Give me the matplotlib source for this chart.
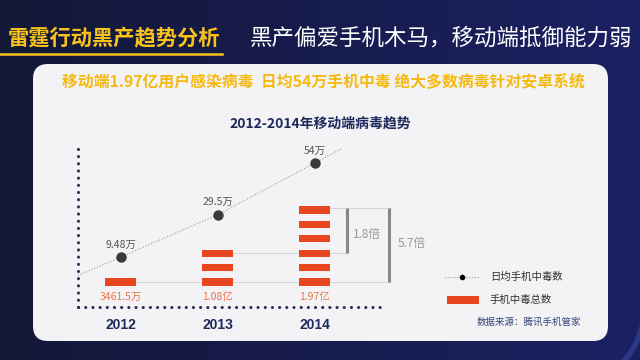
import numpy as np
import matplotlib
matplotlib.use('Agg')
import matplotlib.pyplot as plt
from matplotlib.patches import FancyBboxPatch, Rectangle, Arc
from matplotlib.colors import LinearSegmentedColormap

plt.rcParams['font.family'] = ['Noto Sans CJK SC', 'DejaVu Sans']

# data
years = ['2012', '2013', '2014']
daily = [9.48, 29.5, 54]                 # 日均手机中毒数 (万)
daily_labels = ['9.48万', '29.5万', '54万']
totals = [0.34615, 1.08, 1.97]           # 手机中毒总数 (亿)
total_labels = ['3461.5万', '1.08亿', '1.97亿']
segments = [1, 3, 6]                     # stacked blocks per year
ratio_labels = ['1.8倍', '5.7倍']

bg = '#171c4e'
panel = '#f3f3f5'
orange = '#e8461e'
navy = '#1f2a5c'

fig = plt.figure(figsize=(6.4, 3.6), dpi=100)
fig.patch.set_facecolor(bg)

# full-figure layer in pixel coordinates for the slide decoration
bgax = fig.add_axes([0, 0, 1, 1])
bgax.set_xlim(0, 640)
bgax.set_ylim(360, 0)
bgax.axis('off')

grad = LinearSegmentedColormap.from_list('bg', ['#131837', '#171c4e', '#1b2162'])
bgax.imshow(np.linspace(0, 1, 256)[None, :], cmap=grad, extent=[0, 640, 360, 0],
            aspect='auto', zorder=0)

# faint arcs on the right, mostly hidden by the panel
for r, t1, t2, lw in [(85, 5, 60, 4), (105, 10, 62, 5), (125, 12, 66, 4),
                      (145, 18, 68, 5), (165, 22, 70, 4)]:
    bgax.add_patch(Arc((560, 305), 2 * r, 2 * r, theta1=t1, theta2=t2,
                       color='#2c3887', lw=lw, zorder=1))

bgax.add_patch(FancyBboxPatch((33, 64), 575, 277, boxstyle='round,pad=0,rounding_size=15',
                              facecolor=panel, edgecolor='none', zorder=2))

bgax.text(8, 38, '雷霆行动黑产趋势分析', color='#f7c21a', fontsize=15.3,
          fontweight='bold', va='center', ha='left')
bgax.plot([0, 222], [54, 54], color='#f7c21a', lw=1.8)
bgax.text(250, 38, '黑产偏爱手机木马，移动端抵御能力弱', color='white', fontsize=16.2,
          va='center', ha='left')
bgax.text(323, 81, '移动端1.97亿用户感染病毒  日均54万手机中毒 绝大多数病毒针对安卓系统',
          color='#f5b90f', fontsize=11.4, fontweight='bold', va='center', ha='center')
bgax.text(320, 124, '2012-2014年移动端病毒趋势', color=navy, fontsize=10,
          fontweight='bold', va='center', ha='center')

# legend
bgax.plot([445, 479], [277, 277], color='#999999', lw=0.8, ls=':', zorder=3)
bgax.plot([462], [277], 'o', color='black', ms=3, zorder=3)
bgax.text(490, 277, '日均手机中毒数', color='#333333', fontsize=7.5, va='center')
bgax.add_patch(Rectangle((447, 296), 32, 8, facecolor=orange, edgecolor='none', zorder=3))
bgax.text(490, 300, '手机中毒总数', color='#333333', fontsize=7.5, va='center')
bgax.text(477, 322, '数据来源：腾讯手机管家', color='#34457a', fontsize=6.8,
          va='center', style='italic')

# chart area
ax = fig.add_axes([78 / 640, 1 - 307 / 360, 302 / 640, 160 / 360])
ax.set_facecolor('none')
x = np.arange(len(years))
ax.set_xlim(-0.44, 2.673)
ax.set_ylim(-1.736, 9.375)

h = 0.49
for i, n in enumerate(segments):
    k = np.arange(n)
    ax.bar([x[i]] * n, [h] * n, bottom=k - h / 2, width=0.32, color=orange, zorder=3)
    ax.text(x[i], -1.04, total_labels[i], color='#e8744e', fontsize=7.5,
            ha='center', va='center')

# guide lines and brackets
gx1, gx2 = 2.333, 2.766
ax.plot([x[0], 2.797], [0, 0], color='#d6d6d6', lw=0.8, zorder=1, clip_on=False)
ax.plot([x[1], gx1], [segments[1] - 1] * 2, color='#d6d6d6', lw=0.8, zorder=1, clip_on=False)
ax.plot([x[2], 2.787], [segments[2] - 0.85] * 2, color='#d6d6d6', lw=0.8, zorder=1, clip_on=False)
ax.plot([gx1, gx1], [segments[1] - 1, segments[2] - 0.85], color='#888888', lw=2.2,
        solid_capstyle='butt', clip_on=False)
ax.plot([gx2, gx2], [0, segments[2] - 0.85], color='#888888', lw=2.2,
        solid_capstyle='butt', clip_on=False)
ax.text(2.39, 3.33, ratio_labels[0], color='#999999', fontsize=8.5, va='center', ha='left')
ax.text(2.859, 2.64, ratio_labels[1], color='#999999', fontsize=8.5, va='center',
        ha='left', clip_on=False)

for s in ['top', 'right']:
    ax.spines[s].set_visible(False)
for s in ['left', 'bottom']:
    ax.spines[s].set_color('#2a2f55')
    ax.spines[s].set_linewidth(2.2)
    ax.spines[s].set_linestyle((0, (0.05, 2.3)))
    ax.spines[s].set_capstyle('round')
ax.set_yticks([])
ax.set_xticks(x)
ax.set_xticklabels(years, fontfamily='Liberation Sans', fontweight='bold',
                   fontsize=10, color=navy)
ax.tick_params(axis='x', length=0, pad=8)

# line on its own scale
ax2 = ax.twinx()
ax2.set_ylim(-14.2, 61.6)
ax2.axis('off')
xs = np.concatenate([[-0.44], x, [2.29]])
ys = np.concatenate([[daily[0] - 0.44 * (daily[1] - daily[0])], daily,
                     [daily[2] + 0.29 * (daily[2] - daily[1])]])
ax2.plot(xs, ys, color='#9a9a9a', lw=0.8, ls=':', zorder=2)
ax2.plot(x, daily, 'o', color='#3a3a3a', ms=6.5, zorder=4)
for i, lab in enumerate(daily_labels):
    ax2.annotate(lab, (x[i], daily[i]), xytext=(0, 9), textcoords='offset points',
                 ha='center', va='center', fontsize=7.5, color='#555555')

fig.savefig('out.png', dpi=100, facecolor=bg)
